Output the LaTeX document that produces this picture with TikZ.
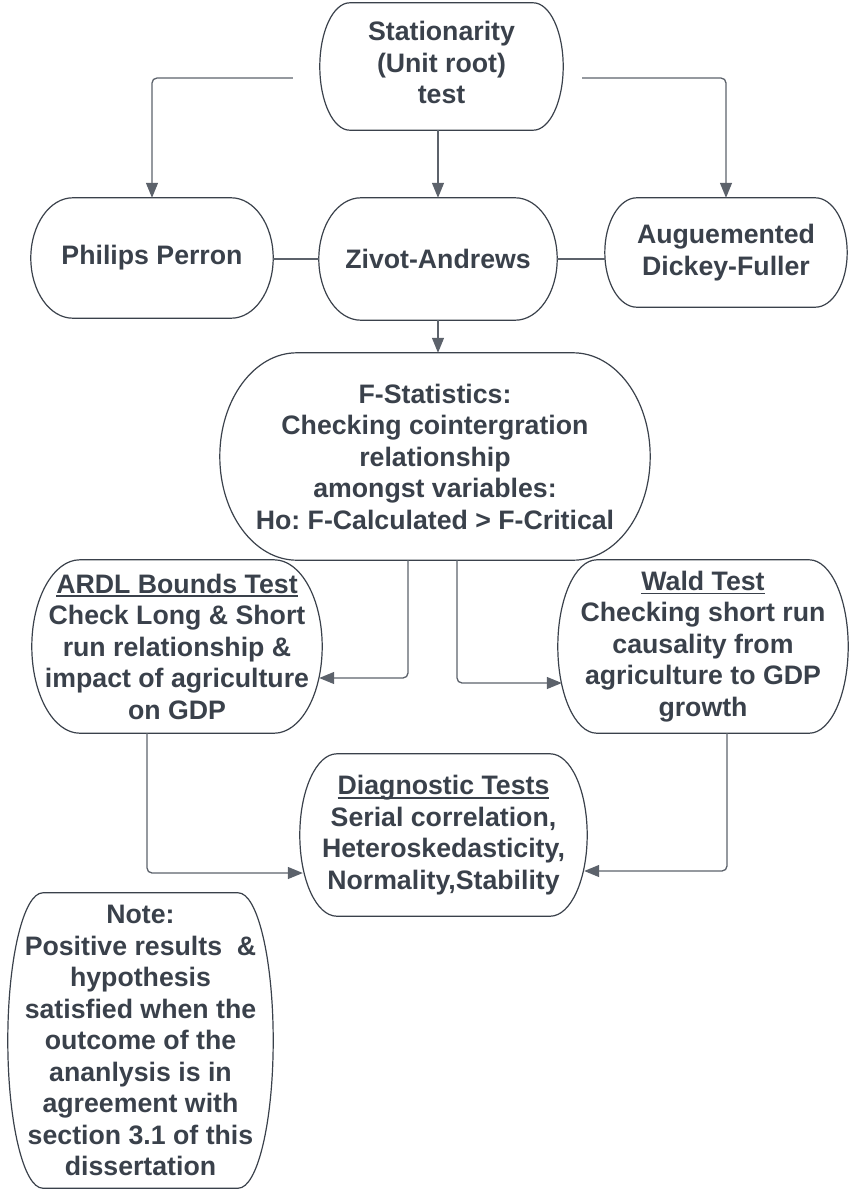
\documentclass[tikz,border=0pt]{standalone}
\usepackage{fontspec}
\setmainfont{Liberation Sans}
\usetikzlibrary{calc,arrows.meta}
\definecolor{ink}{HTML}{3A414B}
\definecolor{wire}{HTML}{5C626B}
\newcommand{\ulin}[1]{\setbox0=\hbox{#1}\rlap{\rule[-4pt]{\wd0}{1.6pt}}\box0}
\frenchspacing
\begin{document}
\begin{tikzpicture}[x=1pt,y=-1pt,
  blob/.style={text=ink, align=center, inner sep=0pt, font=\bfseries\fontsize{26.7}{31.5}\selectfont},
  edge/.style={draw=ink, line width=1.2pt},
  link/.style={draw=wire, line width=1.3pt, rounded corners=5pt},
  arr/.style={link, -{Triangle[length=15pt,width=12pt]}}]
  \useasboundingbox (0,0) rectangle (849,1191);
  \node[blob, minimum width=243pt, minimum height=127pt, text depth=8pt] (stat) at (441.5,66.5) {Stationarity\\(Unit root)\\test};
  \node[blob, minimum width=242pt, minimum height=120pt] (pp) at (152,258) {Philips Perron};
  \node[blob, minimum width=238pt, minimum height=122pt] (ziv) at (438,259) {Zivot-Andrews};
  \node[blob, minimum width=242pt, minimum height=109pt] (adf) at (726,252.5) {Auguemented\\Dickey-Fuller};
  \node[blob, minimum width=430pt, minimum height=207pt] (fst) at (435,456.5) {F-Statistics:\\Checking cointergration\\relationship\\amongst variables:\\Ho: F-Calculated > F-Critical};
  \node[blob, minimum width=290pt, minimum height=173pt] (ardl) at (177,646.5) {\ulin{ARDL Bounds Test}\\Check Long \& Short\\run relationship \&\\impact of agriculture\\on GDP};
  \node[blob, minimum width=290pt, minimum height=173pt] (wald) at (703,646.5) {\ulin{Wald Test}\\Checking short run\\causality from\\agriculture to GDP\\growth};
  \node[blob, minimum width=287pt, minimum height=162pt] (diag) at (443.5,835) {\ulin{Diagnostic Tests}\\Serial correlation,\\Heteroskedasticity,\\Normality,Stability};
  \node[blob, minimum width=265pt, minimum height=295pt] (note) at (140.5,1040.5) {Note:\\Positive results\ \ \&\\hypothesis\\satisfied when the\\outcome of the\\ananlysis is in\\agreement with\\section 3.1 of this\\dissertation};
  \foreach \n/\bw in {stat/30, pp/42, ziv/42, adf/32, fst/77, ardl/48, wald/39, diag/37, note/35}{
    \draw[edge] ([xshift=\bw]\n.north west) -- ([xshift=-\bw]\n.north east)
      .. controls ([xshift={-0.448*\bw}]\n.north east) and ($(\n.east)!0.552!(\n.north east)$) .. (\n.east)
      .. controls ($(\n.east)!0.552!(\n.south east)$) and ([xshift={-0.448*\bw}]\n.south east) .. ([xshift=-\bw]\n.south east)
      -- ([xshift=\bw]\n.south west)
      .. controls ([xshift={0.448*\bw}]\n.south west) and ($(\n.west)!0.552!(\n.south west)$) .. (\n.west)
      .. controls ($(\n.west)!0.552!(\n.north west)$) and ([xshift={0.448*\bw}]\n.north west) .. cycle;
  }
  \draw[arr] ([xshift=-27pt,yshift=-11.5pt]stat.west) -| (pp.north);
  \draw[arr] (ziv.north |- stat.south) -- (ziv.north);
  \draw[arr] ([xshift=19pt,yshift=-11.5pt]stat.east) -| (adf.north);
  \draw[link] (ziv.west -| pp.east) -- (ziv.west);
  \draw[link] (ziv.east) -- (ziv.east -| adf.west);
  \draw[arr] (ziv.south) -- (ziv.south |- fst.north);
  \draw[arr] ([xshift=-27pt]fst.south) |- ([xshift=-3pt,yshift=-31.5pt]ardl.east);
  \draw[arr] ([xshift=22pt]fst.south) |- ([xshift=4pt,yshift=-36.5pt]wald.west);
  \draw[arr] ([xshift=-30pt]ardl.south) |- ([xshift=3pt,yshift=-38pt]diag.west);
  \draw[arr] ([xshift=24pt]wald.south) |- ([xshift=-3pt,yshift=-36pt]diag.east);
\end{tikzpicture}
\end{document}
